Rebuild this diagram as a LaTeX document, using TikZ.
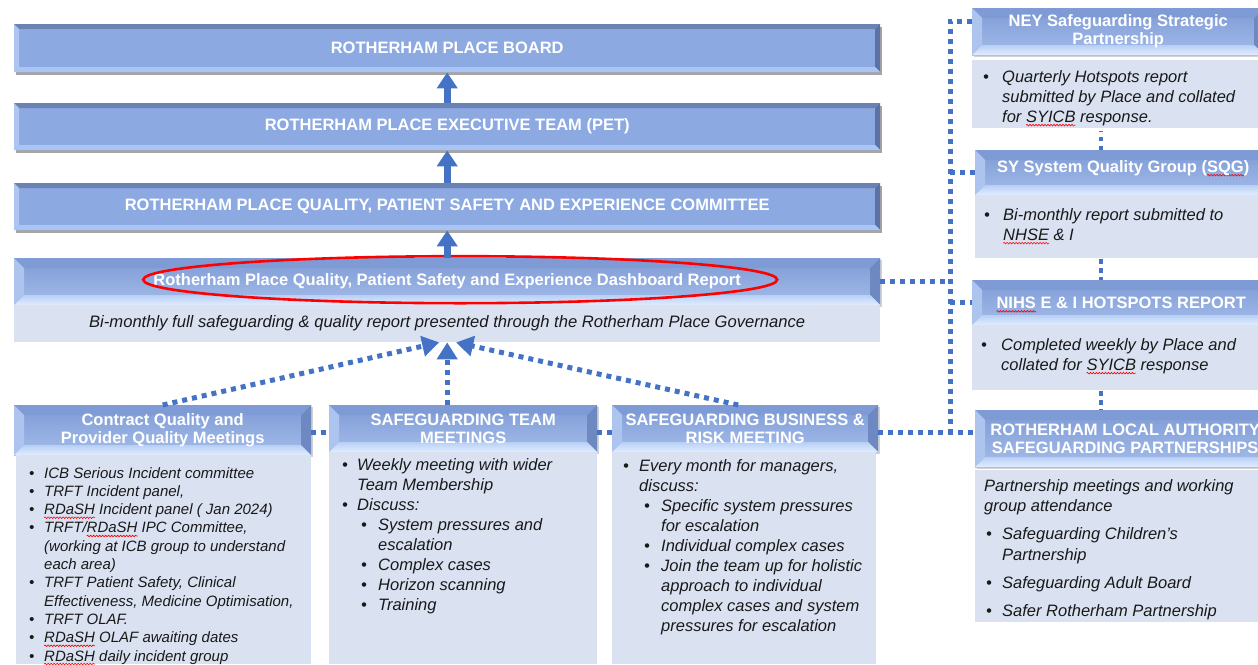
\documentclass[tikz,border=0pt]{standalone}
\usepackage{fontspec}
\setmainfont{Liberation Sans}
\usetikzlibrary{arrows.meta,shapes.geometric,shadows,decorations.pathmorphing}

\definecolor{barmid}{HTML}{8DA9E2}
\definecolor{bartop}{HTML}{6A82B4}
\definecolor{barleft}{HTML}{AEC5F1}
\definecolor{barright}{HTML}{5B72A3}
\definecolor{barbot}{HTML}{A7C5F6}
\definecolor{hdrtop}{HTML}{7F9BD5}
\definecolor{hdrbot}{HTML}{A3BCEA}
\definecolor{hdrleft}{HTML}{ADC4EF}
\definecolor{hdrright}{HTML}{6E89C2}
\definecolor{hdrglowA}{HTML}{B8CFF5}
\definecolor{hdrglowB}{HTML}{E2EEFF}
\definecolor{panel}{HTML}{DAE2F2}
\definecolor{linkblue}{HTML}{4472C4}

% red wavy underline (spell-check mark)
\newdimen\spellwd
\newcommand\spellmark[1]{\settowidth\spellwd{#1}\rlap{\tikz[overlay,x=1pt,y=1pt,baseline=0pt]{\draw[red,line width=0.6pt,decorate,decoration={snake,amplitude=0.8pt,segment length=3pt}] (0pt,-3pt) -- (\spellwd,-3pt);}}#1}

% bevelled edges drawn inside a node: width, top, left, right, bottom (inner), bottom (outer)
\newcommand\bevelpaint[6]{%
  \coordinate (bvA) at (path picture bounding box.north west);
  \coordinate (bvB) at (path picture bounding box.north east);
  \coordinate (bvC) at (path picture bounding box.south east);
  \coordinate (bvD) at (path picture bounding box.south west);
  \fill[#2] (bvA) -- (bvB) -- ([xshift=-#1,yshift=-#1]bvB) -- ([xshift=#1,yshift=-#1]bvA) -- cycle;
  \fill[#3] (bvA) -- ([xshift=#1,yshift=-#1]bvA) -- ([xshift=#1,yshift=#1]bvD) -- (bvD) -- cycle;
  \fill[#4] (bvB) -- ([xshift=-#1,yshift=-#1]bvB) -- ([xshift=-#1,yshift=#1]bvC) -- (bvC) -- cycle;
  \shade[top color=#5,bottom color=#6] (bvD) -- ([xshift=#1,yshift=#1]bvD) -- ([xshift=-#1,yshift=#1]bvC) -- (bvC) -- cycle;
}

\newcommand\hdrfont{\bfseries\fontsize{16.5}{18}\selectfont}
\newcommand\listfont{\itshape\fontsize{16.5}{20}\selectfont}
\newcommand\smalllistfont{\itshape\fontsize{15}{18.3}\selectfont}
\newcommand\bl[2]{\makebox[#1][l]{\textbullet}#2}

\begin{document}
\begin{tikzpicture}[x=1pt,y=-1pt,
  bar/.style={anchor=north west, inner sep=0pt, fill=barmid, text=white, font=\hdrfont, align=center,
    drop shadow={shadow xshift=1.5pt, shadow yshift=-2.5pt, fill=black!70, opacity=0.5},
    path picture={\bevelpaint{5pt}{bartop}{barleft}{barright}{barbot}{barbot}}},
  hdr/.style={anchor=north west, inner sep=0pt, top color=hdrtop, bottom color=hdrbot, text=white,
    font=\hdrfont, align=center,
    drop shadow={shadow xshift=1.5pt, shadow yshift=-2pt, fill=black!50, opacity=0.35},
    path picture={\bevelpaint{10pt}{hdrtop}{hdrleft}{hdrright}{hdrglowA}{hdrglowB}}},
  panelbox/.style={anchor=north west, inner sep=0pt, fill=panel},
  listtext/.style={anchor=north west, inner sep=0pt, align=left, text=black!90},
  uparrow/.style={draw=linkblue, line width=7pt, -{Triangle[width=20pt,length=16pt]}},
  dotlink/.style={draw=linkblue, line width=5pt, dash pattern=on 5pt off 5pt},
  dotarrow/.style={dotlink, -{Triangle[width=20pt,length=17pt]}},
  stacklink/.style={draw=linkblue, line width=4.5pt, dash pattern=on 4.5pt off 4.5pt},
]
\fill[white] (0,0) rectangle (1258,664);
\useasboundingbox (0,0) rectangle (1258,664);

% ---- governance chain ----
\node[bar, minimum width=866pt, minimum height=48pt] (board) at (14,24) {ROTHERHAM PLACE BOARD};
\node[bar, minimum width=866pt, minimum height=47pt] (pet) at (14,103) {ROTHERHAM PLACE EXECUTIVE TEAM (PET)};
\node[bar, minimum width=866pt, minimum height=47pt] (qpse) at (14,183) {ROTHERHAM PLACE QUALITY, PATIENT SAFETY AND EXPERIENCE COMMITTEE};
\node[hdr, minimum width=866pt, minimum height=47pt] (dash) at (14,258) {Rotherham Place Quality, Patient Safety and Experience Dashboard Report};
\node[panelbox, minimum width=866pt, minimum height=37pt, font=\itshape\fontsize{16.6}{19}\selectfont, text=black!90] (dashp) at (14,305)
  {Bi-monthly full safeguarding \& quality report presented through the Rotherham Place Governance};
\node[draw=red, line width=2.6pt, ellipse, inner sep=0pt, minimum width=634pt, minimum height=47pt] (ring)
  at ([xshift=13pt,yshift=2pt]dash.center) {};

\draw[uparrow] (pet.north) -- (board.south);
\draw[uparrow] (qpse.north) -- (pet.south);
\draw[uparrow] (dash.north) -- (qpse.south);

% ---- meetings feeding the dashboard ----
\node[hdr, minimum width=297pt, minimum height=50pt] (cq) at (14,405) {Contract Quality and\\Provider Quality Meetings};
\node[panelbox, minimum width=295pt, minimum height=209pt] (cqp) at (16,455) {};
\node[listtext, font=\smalllistfont] (cqt) at (29,467) {%
\bl{15pt}{ICB Serious Incident committee}\\
\bl{15pt}{TRFT Incident panel,}\\
\bl{15pt}{\spellmark{RDaSH} Incident panel ( Jan 2024)}\\
\bl{15pt}{TRFT/\spellmark{RDaSH} IPC Committee,}\\
\hspace*{15pt}(working at ICB group to understand\\
\hspace*{15pt}each area)\\
\bl{15pt}{TRFT Patient Safety, Clinical}\\
\hspace*{15pt}Effectiveness, Medicine Optimisation,\\
\bl{15pt}{TRFT OLAF.}\\
\bl{15pt}{\spellmark{RDaSH} OLAF awaiting dates}\\
\bl{15pt}{\spellmark{RDaSH} daily incident group}};

\node[hdr, minimum width=268pt, minimum height=47pt] (st) at (329,405) {SAFEGUARDING TEAM\\MEETINGS};
\node[panelbox, minimum width=268pt, minimum height=212pt] (stp) at (329,452) {};
\node[listtext, font=\listfont] (stt) at (342,458) {%
\bl{15pt}{Weekly meeting with wider}\\
\hspace*{15pt}Team Membership\\
\bl{15pt}{Discuss:}\\
\hspace*{19pt}\bl{17pt}{System pressures and}\\
\hspace*{36pt}escalation\\
\hspace*{19pt}\bl{17pt}{Complex cases}\\
\hspace*{19pt}\bl{17pt}{Horizon scanning}\\
\hspace*{19pt}\bl{17pt}{Training}};

\node[hdr, minimum width=266pt, minimum height=47pt] (br) at (612,405) {SAFEGUARDING BUSINESS \&\\RISK MEETING};
\node[panelbox, minimum width=264pt, minimum height=212pt] (brp) at (612,452) {};
\node[listtext, font=\listfont] (brt) at (623,459) {%
\bl{16pt}{Every month for managers,}\\
\hspace*{16pt}discuss:\\
\hspace*{21pt}\bl{17pt}{Specific system pressures}\\
\hspace*{38pt}for escalation\\
\hspace*{21pt}\bl{17pt}{Individual complex cases}\\
\hspace*{21pt}\bl{17pt}{Join the team up for holistic}\\
\hspace*{38pt}approach to individual\\
\hspace*{38pt}complex cases and system\\
\hspace*{38pt}pressures for escalation};

% ---- regional / partnership reporting ----
\node[hdr, minimum width=292pt, minimum height=47pt] (ney) at (972,8) {NEY Safeguarding Strategic\\Partnership};
\node[panelbox, minimum width=292pt, minimum height=68pt] (neyp) at (972,60) {};
\node[listtext, font=\listfont] (neyt) at (983,70) {%
\bl{19pt}{Quarterly Hotspots report}\\
\hspace*{19pt}submitted by Place and collated\\
\hspace*{19pt}for \spellmark{SYICB} response.};

\node[hdr, minimum width=296pt, minimum height=45pt, text depth=13pt] (sqg) at (975,150) {SY System Quality Group (\spellmark{SQG})};
\node[panelbox, minimum width=292pt, minimum height=63pt] (sqgp) at (975,195) {};
\node[listtext, font=\listfont] (sqgt) at (984,208) {%
\bl{19pt}{Bi-monthly report submitted to}\\
\hspace*{19pt}\spellmark{NHSE} \& I};

\node[hdr, minimum width=298pt, minimum height=45pt] (nhs) at (972,280) {\spellmark{NIHS} E \& I HOTSPOTS REPORT};
\node[panelbox, minimum width=292pt, minimum height=65pt] (nhsp) at (972,325) {};
\node[listtext, font=\listfont] (nhst) at (981,338) {%
\bl{20pt}{Completed weekly by Place and}\\
\hspace*{20pt}collated for \spellmark{SYICB} response};

\node[hdr, minimum width=300pt, minimum height=57pt] (la) at (975,410) {ROTHERHAM LOCAL AUTHORITY\\SAFEGUARDING PARTNERSHIPS};
\node[panelbox, minimum width=292pt, minimum height=152pt] (lap) at (975,470) {};
\node[listtext, font=\itshape\fontsize{16.5}{20.5}\selectfont] (lat) at (984,479) {%
Partnership meetings and working\\
group attendance\\[7.5pt]
\hspace*{2pt}\bl{16pt}{Safeguarding Children’s}\\
\hspace*{18pt}Partnership\\[7.5pt]
\hspace*{2pt}\bl{16pt}{Safeguarding Adult Board}\\[7.5pt]
\hspace*{2pt}\bl{16pt}{Safer Rotherham Partnership}};

% ---- dotted links ----
\coordinate (busTop) at (950,21);
\coordinate (busBot) at (950,432);
\coordinate (vx) at (1101,0);

\draw[dotlink] (ney.west |- busTop) -- (busTop) -- (busBot);
\draw[dotlink] (busTop |- sqg.west) -- (sqg.west);
\draw[dotlink] (dash.east) -- (busTop |- dash.east);
\draw[dotlink] (busTop |- nhs.west) -- (nhs.west);
\draw[dotlink] (br.east |- busBot) -- (la.west |- busBot);
\draw[dotlink] (cq.east |- busBot) -- (st.west |- busBot);
\draw[dotlink] (st.east |- busBot) -- (br.west |- busBot);

\draw[dotarrow] (cq.north) -- ([xshift=-8pt]dashp.south);
\draw[dotarrow] (st.north -| dashp.south) -- (dashp.south);
\draw[dotarrow] ([xshift=-7pt]br.north) -- ([xshift=9pt]dashp.south);

% links down the right-hand stack
\draw[stacklink] (sqg.north -| vx) -- ([yshift=-3pt]neyp.south -| vx);
\draw[stacklink] ([yshift=-1pt]sqgp.south -| vx) -- (nhs.north -| vx);
\draw[stacklink] ([yshift=-1pt]nhsp.south -| vx) -- (la.north -| vx);
\end{tikzpicture}
\end{document}
